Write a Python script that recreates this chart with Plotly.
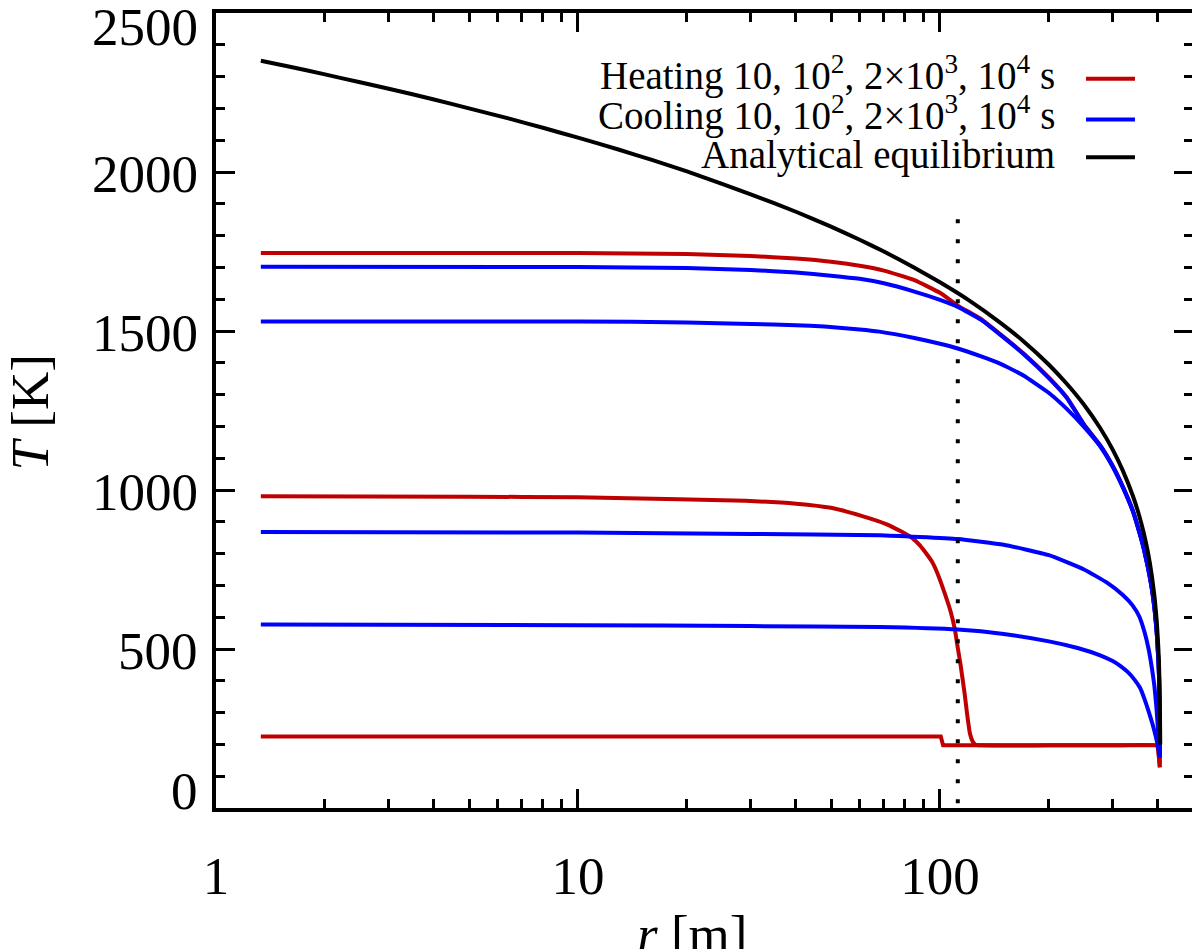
import plotly.graph_objects as go

# ---- data (r in m, T in K) ----
r_eq = [1.33, 1.6, 2, 2.5, 3, 4, 5, 6.5, 8, 10, 13, 16, 20, 25, 30, 40, 50, 60, 70, 85, 100,
        120, 146, 170, 200, 224, 250, 277, 300, 320, 341, 355, 365, 375, 385, 392, 397, 401, 403, 405, 406]
T_eq = [2350, 2331, 2307, 2282, 2262, 2228, 2200, 2167, 2139, 2108, 2070, 2038, 2002, 1963, 1930, 1875, 1828,
        1787, 1750, 1699, 1653, 1597, 1528, 1468, 1394, 1334, 1268, 1195, 1127, 1061, 982, 920, 868, 807, 729,
        658, 588, 507, 446, 339, 200]

# heating runs (10, 10^2, 2x10^3, 10^4 s)
r_h1 = [1.33, 100.5, 102, 397, 400, 403, 405]
T_h1 = [225, 225, 197, 197, 190, 160, 128]

r_h2 = [1.33, 5, 10, 19, 29, 40, 50, 61, 71, 78, 84, 88, 91, 95, 98, 102, 107, 110, 112, 114, 117, 119,
        121, 123, 125, 130, 200, 300, 397, 400, 403, 405]
T_h2 = [980, 979, 977, 971, 966, 957, 944, 918, 893, 870, 848, 826, 805, 775, 743, 690, 618, 560, 503, 450,
        359, 290, 234, 210, 200, 197, 197, 197, 197, 190, 160, 128]

r_h3 = [1.33, 10, 20, 30, 40, 50, 60, 70, 85, 100, 112, 130, 146, 170, 200, 224, 250, 277, 300, 320, 341,
        355, 365, 375, 385, 392, 397, 401, 403, 405]
T_h3 = [1745, 1745, 1742, 1736, 1728, 1718, 1705, 1690, 1660, 1620, 1580, 1537, 1492, 1430, 1353, 1291,
        1206, 1141, 1076, 1011, 936, 871, 821, 761, 690, 622, 553, 470, 410, 140]

# cooling runs
r_c1 = [1.33, 10, 20, 30, 40, 50, 60, 70, 85, 100, 112, 130, 146, 170, 200, 224, 250, 277, 300, 320, 341,
        355, 365, 375, 385, 392, 397, 401, 403, 405]
T_c1 = [1702, 1701, 1698, 1692, 1684, 1674, 1664, 1650, 1624, 1598, 1576, 1535, 1490, 1428, 1352, 1290,
        1205, 1140, 1075, 1010, 935, 870, 820, 760, 689, 621, 552, 469, 409, 159]

r_c2 = [1.33, 10, 20, 30, 40, 48, 60, 68, 85, 100, 112, 130, 146, 170, 200, 224, 250, 277, 300, 320, 341,
        355, 365, 375, 385, 392, 397, 401, 403, 405]
T_c2 = [1530, 1530, 1527, 1522, 1518, 1514, 1505, 1498, 1478, 1460, 1445, 1420, 1398, 1360, 1305, 1255,
        1198, 1137, 1073, 1008, 933, 868, 818, 758, 687, 619, 550, 467, 407, 159]

r_c3 = [1.33, 10, 30, 68, 112, 150, 200, 250, 290, 320, 340, 355, 367, 377, 385, 391, 396, 400, 403, 405]
T_c3 = [868, 866, 862, 858, 846, 828, 795, 750, 708, 670, 638, 603, 555, 500, 440, 385, 320, 250, 200, 159]

r_c4 = [1.33, 10, 30, 68, 112, 150, 200, 240, 277, 300, 314, 330, 345, 357, 368, 378, 387, 394, 399, 402, 405]
T_c4 = [577, 575, 572, 569, 561, 547, 524, 503, 480, 462, 448, 428, 403, 378, 340, 300, 262, 228, 200, 182, 159]

r_mark = [112, 112]
T_mark = [15, 1900]

y_ticks = [0, 500, 1000, 1500, 2000, 2500]
y_ticklabels = ["0", "500", "1000", "1500", "2000", "2500"]
y_label_shift = [17, -2, -2, -2, -2, -14]   # IDL keeps the end labels inside the box

x_ticks = [1, 10, 100]
x_ticklabels = ["1", "10", "100"]
x_minor = [2, 3, 4, 5, 6, 7, 8, 9, 20, 30, 40, 50, 60, 70, 80, 90, 200, 300, 400]

legend_labels = [
    "Heating 10, 10<sup>2</sup>, 2×10<sup>3</sup>, 10<sup>4</sup> s",
    "Cooling 10, 10<sup>2</sup>, 2×10<sup>3</sup>, 10<sup>4</sup> s",
    "Analytical equilibrium",
]
RED, BLUE, BLACK = "#c00000", "#0000ff", "#000000"
legend_colors = [RED, BLUE, BLACK]

FONT = "Liberation Serif, Times New Roman, serif"
LW = 4

fig = go.Figure()

# the step run stays piecewise linear, the rest get a light spline
fig.add_trace(go.Scatter(x=r_h1, y=T_h1, mode="lines", line=dict(color=RED, width=LW)))
for rr, tt in [(r_h2, T_h2), (r_h3, T_h3)]:
    fig.add_trace(go.Scatter(x=rr, y=tt, mode="lines",
                             line=dict(color=RED, width=LW, shape="spline", smoothing=0.4)))
for rr, tt in [(r_c1, T_c1), (r_c2, T_c2), (r_c3, T_c3), (r_c4, T_c4)]:
    fig.add_trace(go.Scatter(x=rr, y=tt, mode="lines",
                             line=dict(color=BLUE, width=LW, shape="spline", smoothing=0.4)))
fig.add_trace(go.Scatter(x=r_eq, y=T_eq, mode="lines",
                         line=dict(color=BLACK, width=LW, shape="spline", smoothing=0.4)))
fig.add_trace(go.Scatter(x=r_mark, y=T_mark, mode="lines", line=dict(color=BLACK, width=4, dash="4px,16px")))

# legend, IDL style: text right aligned, sample line on the right
text_y = [0.9237, 0.8736, 0.8215]
line_y = [0.9174, 0.8661, 0.8185]
for lab, col, ty, ly in zip(legend_labels, legend_colors, text_y, line_y):
    fig.add_annotation(xref="paper", yref="paper", x=0.861, y=ty, text=lab, showarrow=False,
                       xanchor="right", yanchor="middle", font=dict(family=FONT, size=39, color="black"))
    fig.add_shape(type="line", xref="paper", yref="paper", x0=0.8905, x1=0.9406, y0=ly, y1=ly,
                  line=dict(color=col, width=LW))

# y tick labels
for v, lab, sh in zip(y_ticks, y_ticklabels, y_label_shift):
    fig.add_annotation(xref="paper", yref="y", x=-0.0164, y=v, yshift=sh, text=lab, showarrow=False,
                       xanchor="right", yanchor="middle", font=dict(family=FONT, size=53, color="black"))

# axis titles
fig.add_annotation(xref="paper", yref="paper", x=0.487, y=-0.159, text="<i>r</i> [m]", showarrow=False,
                   xanchor="center", yanchor="middle", font=dict(family=FONT, size=53, color="black"))
fig.add_annotation(xref="paper", yref="paper", x=-0.190, y=0.498, text="<i>T</i> [K]", showarrow=False,
                   textangle=-90, xanchor="center", yanchor="middle", font=dict(family=FONT, size=53, color="black"))

axis_common = dict(showgrid=False, zeroline=False, showline=True, linecolor="black", linewidth=4,
                   mirror="allticks", ticks="inside", ticklen=19, tickwidth=3, tickcolor="black",
                   tickfont=dict(family=FONT, size=53, color="black"))

fig.update_xaxes(type="log", range=[0, 2.699], tickmode="array", tickvals=x_ticks,
                 ticktext=x_ticklabels, ticklabelstandoff=18,
                 minor=dict(ticks="inside", ticklen=9, tickwidth=3, tickcolor="black", tickvals=x_minor),
                 **axis_common)
fig.update_yaxes(range=[0, 2500], tickmode="array", tickvals=y_ticks, showticklabels=False,
                 minor=dict(ticks="inside", ticklen=9, tickwidth=3, tickcolor="black", dtick=100, tick0=0),
                 **axis_common)

# page body adds an 8px margin, so the figure is placed 8px in from the window corner
fig.update_layout(width=1192, height=941, showlegend=False,
                  margin=dict(l=208, r=7, t=1, b=141),
                  paper_bgcolor="white", plot_bgcolor="white",
                  font=dict(family=FONT, color="black"))

fig.write_html("out.html")
